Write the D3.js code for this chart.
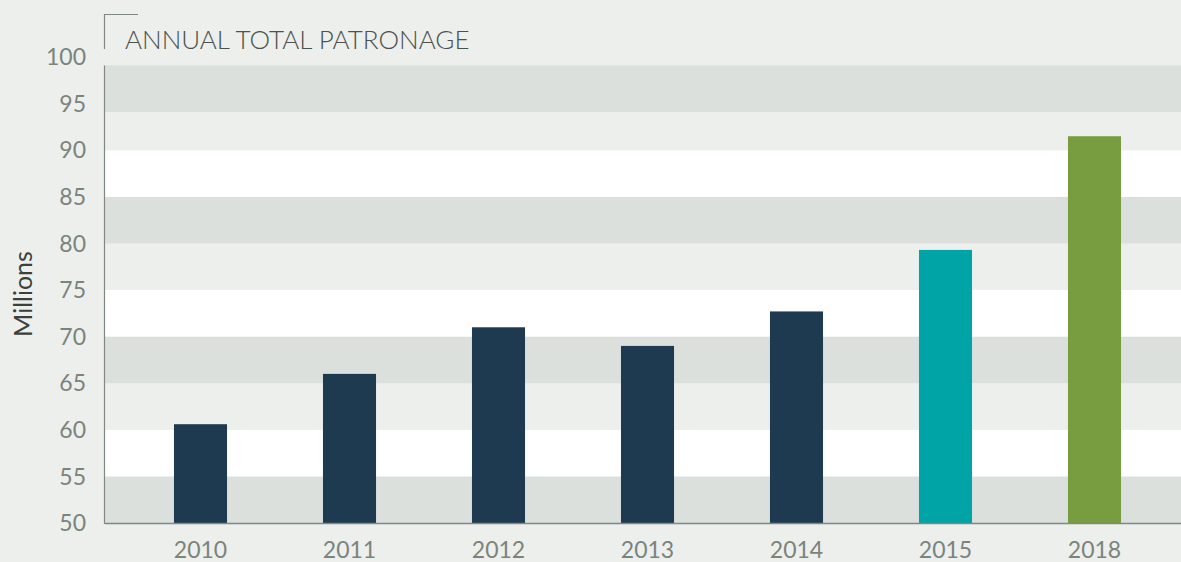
<!DOCTYPE html>
<html>
<head>
<meta charset="utf-8">
<script src="https://cdn.jsdelivr.net/npm/d3@7"></script>
<style>
  html, body { margin: 0; padding: 0; background: #edefec; }
  svg { display: block; }
  text { font-family: Lato, "Open Sans", sans-serif; }
</style>
</head>
<body>
<div id="chart"></div>
<script>
const years = ["2010", "2011", "2012", "2013", "2014", "2015", "2018"];
const patronage = [60.6, 66.0, 71.0, 69.0, 72.7, 79.3, 91.5];
const barColors = ["#1e3a51", "#1e3a51", "#1e3a51", "#1e3a51", "#1e3a51", "#00a3a6", "#789d40"];
const yTicks = [50, 55, 60, 65, 70, 75, 80, 85, 90, 95, 100];
// background stripes, as drawn in the original (top two are slightly off the ticks)
const stripeEdges = [50, 55, 60, 65, 70, 75, 80, 85, 90, 94.1, 99.1];
const stripeFills = ["#dbe0dc", "#ffffff", "#edefec"];

const width = 1181;
const height = 562;

const svg = d3.select('#chart')
    .append('svg')
    .attr('width', width)
    .attr('height', height)

const x = d3.scaleBand()
    .domain(years)
    .range([126, 1169])
    .paddingInner(0.644)
    .paddingOuter(0.322)

const y = d3.scaleLinear()
    .domain([50, 100])
    .range([523, 57])

const left = 105;

// stripes
svg.append('g')
    .selectAll('rect')
    .data(d3.pairs(stripeEdges))
    .enter()
    .append('rect')
    .attr('x', left)
    .attr('width', width - left)
    .attr('y', d => y(d[1]))
    .attr('height', d => y(d[0]) - y(d[1]))
    .attr('fill', (d, i) => stripeFills[i % 3])

// bars
svg.append('g')
    .selectAll('rect')
    .data(patronage)
    .enter()
    .append('rect')
    .attr('x', (d, i) => x(years[i]))
    .attr('width', x.bandwidth())
    .attr('y', d => y(d))
    .attr('height', d => y(50) - y(d))
    .attr('fill', (d, i) => barColors[i])

// axis lines
svg.append('line')
    .attr('x1', left).attr('x2', width)
    .attr('y1', y(50) + 0.5).attr('y2', y(50) + 0.5)
    .attr('stroke', '#7f8881').attr('stroke-width', 1.5)

svg.append('line')
    .attr('x1', left - 0.5).attr('x2', left - 0.5)
    .attr('y1', y(stripeEdges[stripeEdges.length - 1])).attr('y2', y(50) + 1)
    .attr('stroke', '#7f8881').attr('stroke-width', 1.2)

// title bracket
svg.append('path')
    .attr('d', `M${left - 0.5},49 V14.5 H138`)
    .attr('fill', 'none')
    .attr('stroke', '#7f8881')
    .attr('stroke-width', 1.2)

svg.append('text')
    .attr('x', 125)
    .attr('y', 49)
    .attr('font-size', 26)
    .attr('font-weight', 300)
    .attr('fill', '#4b514d')
    .text('ANNUAL TOTAL PATRONAGE')

// y tick labels
svg.append('g')
    .selectAll('text')
    .data(yTicks)
    .enter()
    .append('text')
    .attr('x', 86)
    .attr('y', d => y(d))
    .attr('dy', '0.36em')
    .attr('text-anchor', 'end')
    .attr('font-size', 23)
    .attr('fill', '#7a847c')
    .text(d => d)

// x labels
svg.append('g')
    .selectAll('text')
    .data(years)
    .enter()
    .append('text')
    .attr('x', d => x(d) + x.bandwidth() / 2)
    .attr('y', 558)
    .attr('text-anchor', 'middle')
    .attr('font-size', 23)
    .attr('fill', '#7a847c')
    .text(d => d)

svg.append('text')
    .attr('transform', 'translate(32,294) rotate(-90)')
    .attr('text-anchor', 'middle')
    .attr('font-size', 25)
    .attr('fill', '#3b403d')
    .text('Millions')
</script>
</body>
</html>
